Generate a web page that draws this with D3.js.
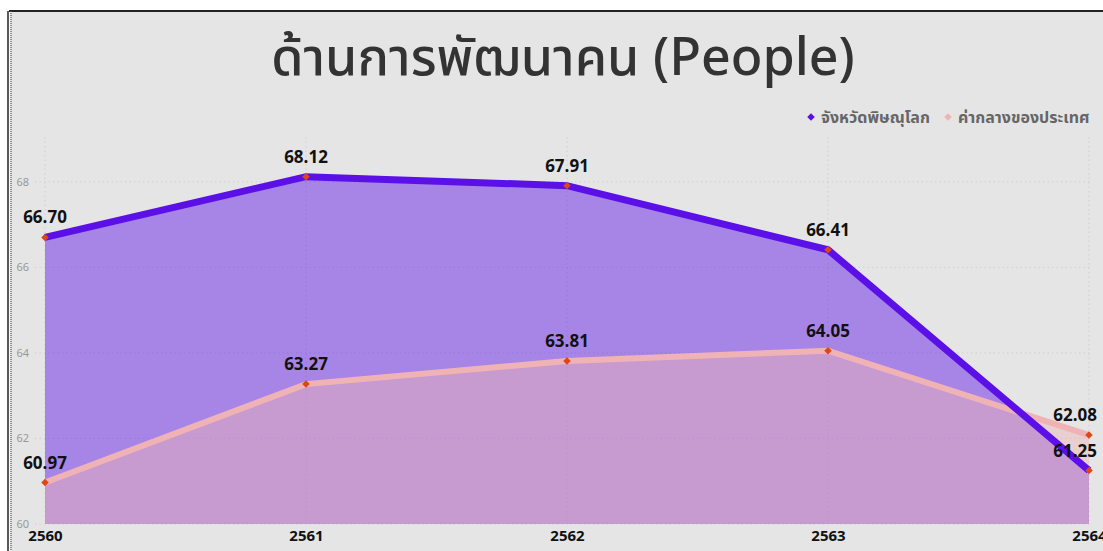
<!DOCTYPE html>
<html><head><meta charset="utf-8">
<script src="https://cdn.jsdelivr.net/npm/d3@7"></script>
<style>html,body{margin:0;padding:0;background:#fff;}svg{display:block;}</style>
</head><body>
<svg id="c" width="1103" height="551"></svg>
<script>
const years = ["2560","2561","2562","2563","2564"];
const phitsanulok = [66.70, 68.12, 67.91, 66.41, 61.25];
const national = [60.97, 63.27, 63.81, 64.05, 62.08];
const yTicks = [60, 62, 64, 66, 68];
const seriesNames = ["จังหวัดพิษณุโลก", "ค่ากลางของประเทศ"];
const titleText = "ด้านการพัฒนาคน (People)";

const svg = d3.select("#c");
const W = 1103, H = 551;
svg.append("rect").attr("x",10).attr("y",11).attr("width",W).attr("height",H).attr("fill","#e5e5e5");
svg.append("line").attr("x1",9).attr("x2",W).attr("y1",11).attr("y2",11).attr("stroke","#222").attr("stroke-width",2);
svg.append("line").attr("x1",8).attr("x2",8).attr("y1",11).attr("y2",H).attr("stroke","#222").attr("stroke-width",1.5);
svg.append("line").attr("x1",11).attr("x2",11).attr("y1",11).attr("y2",H).attr("stroke","#555").attr("stroke-width",1.2).attr("stroke-dasharray","1,1");

const x = d3.scalePoint().domain(years).range([45,1089]);
const y = d3.scaleLinear().domain([60,69]).range([524,139]);

const font = "'Noto Sans Thai','Noto Sans','DejaVu Sans',sans-serif";

// title
svg.append("text").attr("x",563).attr("y",75).attr("text-anchor","middle")
  .attr("font-family",font).attr("font-size",52).attr("font-weight",500).attr("fill","#333").text(titleText);

// gridlines
const g = svg.append("g");
g.selectAll(".hg").data(yTicks).enter().append("line")
  .attr("x1",35).attr("x2",1089).attr("y1",d=>y(d)).attr("y2",d=>y(d))
  .attr("stroke","#cfcfcf").attr("stroke-dasharray","1.5,3").attr("stroke-width",1);
g.selectAll(".vg").data(years).enter().append("line")
  .attr("x1",d=>x(d)).attr("x2",d=>x(d)).attr("y1",137).attr("y2",524)
  .attr("stroke","#cfcfcf").attr("stroke-dasharray","1.5,3").attr("stroke-width",1);

// y axis labels
const yAxis = d3.axisLeft(y).tickValues(yTicks).tickSize(0).tickPadding(0).tickFormat(d3.format("d"));
const ya = svg.append("g").attr("transform","translate(29,0)").call(yAxis);
ya.select(".domain").remove();
ya.selectAll("text").attr("font-family",font).attr("font-size",11).attr("fill","#999");

// x axis labels
const xAxis = d3.axisBottom(x).tickSize(0).tickPadding(0);
const xa = svg.append("g").attr("transform","translate(0,530)").call(xAxis);
xa.select(".domain").remove();
xa.selectAll("text").attr("font-family",font).attr("font-size",15).attr("font-weight","bold").attr("fill","#111");

const purple = "#5a10e6", pink = "#f0b3b5";
const area = d3.area().x((d,i)=>x(years[i])).y0(y(60)).y1(d=>y(d));
const line = d3.line().x((d,i)=>x(years[i])).y(d=>y(d));

svg.append("path").datum(phitsanulok).attr("d",area).attr("fill",purple).attr("fill-opacity",0.45);
svg.append("path").datum(national).attr("d",area).attr("fill",pink).attr("fill-opacity",0.45);
svg.append("path").datum(national).attr("d",line).attr("fill","none").attr("stroke",pink).attr("stroke-width",6);
svg.append("path").datum(phitsanulok).attr("d",line).attr("fill","none").attr("stroke",purple).attr("stroke-width",7);

function marks(data){
  svg.append("g").selectAll("path").data(data).enter().append("path")
    .attr("d",d3.symbol().type(d3.symbolSquare).size(28))
    .attr("transform",(d,i)=>`translate(${x(years[i])},${y(d)}) rotate(45)`)
    .attr("fill","#dd4616");
  svg.append("g").selectAll("text").data(data).enter().append("text")
    .attr("x",(d,i)=> i===years.length-1 ? x(years[i])+8 : x(years[i]))
    .attr("y",d=>y(d)-14)
    .attr("text-anchor",(d,i)=> i===years.length-1 ? "end":"middle")
    .attr("font-family",font).attr("font-size",17).attr("font-weight","bold").attr("fill","#111")
    .text(d=>d.toFixed(2));
}
marks(national);
marks(phitsanulok);

// legend
const leg = [{n:seriesNames[0],c:purple,x:811},{n:seriesNames[1],c:"#f0b3b5",x:948}];
leg.forEach(l=>{
  svg.append("path").attr("d",d3.symbol().type(d3.symbolSquare).size(28))
    .attr("transform",`translate(${l.x},117) rotate(45)`).attr("fill",l.c);
  svg.append("text").attr("x",l.x+10).attr("y",123).attr("font-family",font)
    .attr("font-size",16).attr("font-weight","bold").attr("fill","#666").text(l.n);
});
</script>
</body></html>
